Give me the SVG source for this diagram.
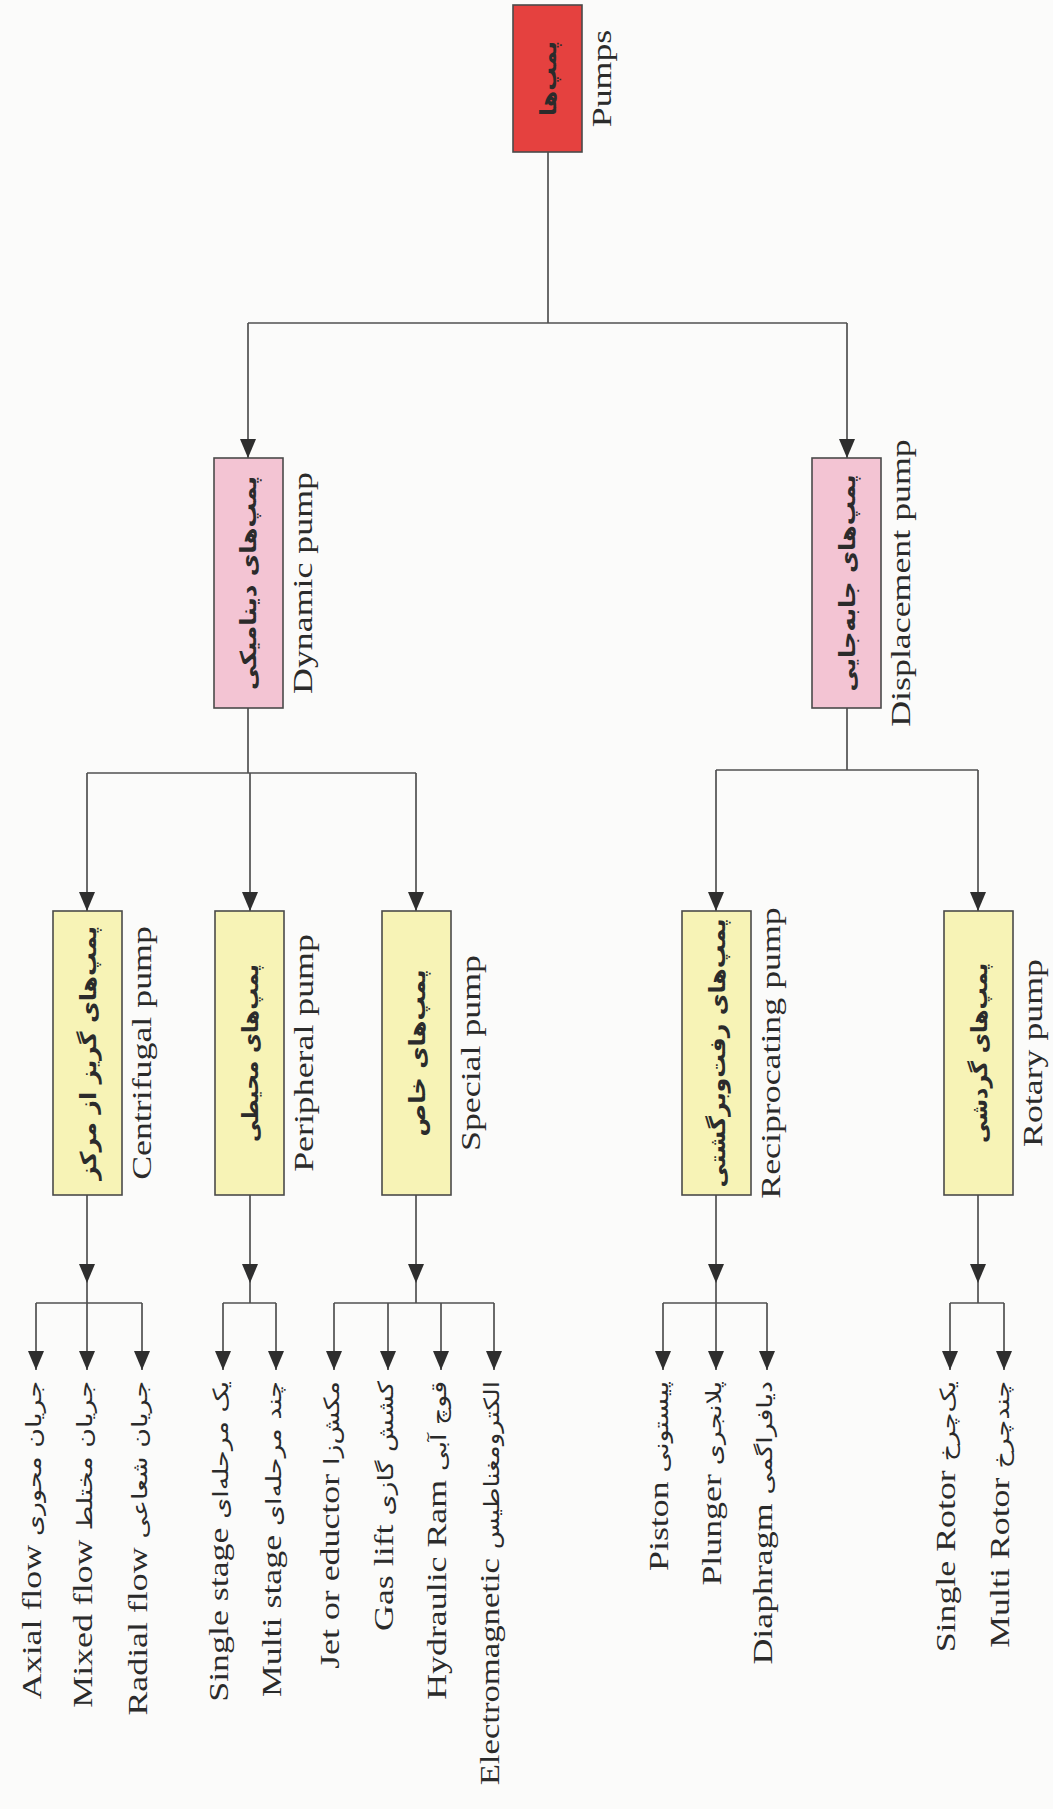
<svg xmlns="http://www.w3.org/2000/svg" width="1053" height="1809" viewBox="0 0 1053 1809">
<style>
.en{font-family:"Liberation Serif","Times New Roman",serif;font-size:28px;fill:#2b2b2b}
.fa{font-family:"DejaVu Sans","Noto Sans",sans-serif;font-size:22px;font-weight:bold;fill:#2b2b2b}
.fl{font-family:"DejaVu Sans","Noto Sans",sans-serif;font-size:21px}
.box{stroke:#4a4a4a;stroke-width:1.6}
.root{fill:#e5413f}
.l1{fill:#f3c4d3}
.l2{fill:#f7f3b6}
#connectors path{fill:none;stroke:#505050;stroke-width:1.7}
#connectors path.a{marker-end:url(#ah)}
</style>
<defs>
<marker id="ah" viewBox="0 0 10 10" refX="10" refY="5" markerWidth="19" markerHeight="16" markerUnits="userSpaceOnUse" orient="auto" preserveAspectRatio="none">
<path d="M0,0 L10,5 L0,10 z" fill="#2e2e2e"/>
</marker>
</defs>
<rect width="1053" height="1809" fill="#fbfbfa"/>
<g id="connectors">
<path d="M548,152 V323"/>
<path d="M248,323 H847"/>
<path class="a" d="M248,323 V458"/>
<path class="a" d="M847,323 V458"/>
<path d="M248,708 V773"/>
<path d="M87,773 H416"/>
<path class="a" d="M87,773 V911"/>
<path class="a" d="M250,773 V911"/>
<path class="a" d="M416,773 V911"/>
<path d="M847,708 V770"/>
<path d="M716,770 H978"/>
<path class="a" d="M716,770 V911"/>
<path class="a" d="M978,770 V911"/>
<path class="a" d="M87,1195 V1283"/>
<path d="M87,1283 V1303"/>
<path d="M36,1303 H142"/>
<path class="a" d="M36,1303 V1370"/>
<path class="a" d="M87,1303 V1370"/>
<path class="a" d="M142,1303 V1370"/>
<path class="a" d="M250,1195 V1283"/>
<path d="M250,1283 V1303"/>
<path d="M223,1303 H276"/>
<path class="a" d="M223,1303 V1370"/>
<path class="a" d="M276,1303 V1370"/>
<path class="a" d="M416,1195 V1283"/>
<path d="M416,1283 V1303"/>
<path d="M334,1303 H494"/>
<path class="a" d="M334,1303 V1370"/>
<path class="a" d="M388,1303 V1370"/>
<path class="a" d="M441,1303 V1370"/>
<path class="a" d="M494,1303 V1370"/>
<path class="a" d="M716,1195 V1283"/>
<path d="M716,1283 V1303"/>
<path d="M663,1303 H767"/>
<path class="a" d="M663,1303 V1370"/>
<path class="a" d="M716,1303 V1370"/>
<path class="a" d="M767,1303 V1370"/>
<path class="a" d="M978,1195 V1283"/>
<path d="M978,1283 V1303"/>
<path d="M950,1303 H1004"/>
<path class="a" d="M950,1303 V1370"/>
<path class="a" d="M1004,1303 V1370"/>
</g>
<g id="pumps">
<rect class="box root" x="513" y="5" width="69" height="147"/>
<text class="fa" transform="translate(556,78.5) rotate(-90)" text-anchor="middle" textLength="75" lengthAdjust="spacingAndGlyphs">پمپ‌ها</text>
<text class="en" transform="translate(611,78.5) rotate(-90) scale(1.28,1)" text-anchor="middle">Pumps</text>
</g>
<g id="dynamic">
<rect class="box l1" x="214" y="458" width="69" height="250"/>
<text class="fa" transform="translate(256,583) rotate(-90)" text-anchor="middle" textLength="214" lengthAdjust="spacingAndGlyphs">پمپ‌های دینامیکی</text>
<text class="en" transform="translate(312,583) rotate(-90) scale(1.28,1)" text-anchor="middle">Dynamic pump</text>
</g>
<g id="displacement">
<rect class="box l1" x="812" y="458" width="69" height="250"/>
<text class="fa" transform="translate(855,583) rotate(-90)" text-anchor="middle" textLength="217" lengthAdjust="spacingAndGlyphs">پمپ‌های جابه‌جایی</text>
<text class="en" transform="translate(910,583) rotate(-90) scale(1.28,1)" text-anchor="middle">Displacement pump</text>
</g>
<g id="centrifugal">
<rect class="box l2" x="53" y="911" width="69" height="284"/>
<text class="fa" transform="translate(96,1053) rotate(-90)" text-anchor="middle" textLength="254" lengthAdjust="spacingAndGlyphs">پمپ‌های گریز از مرکز</text>
<text class="en" transform="translate(151,1053) rotate(-90) scale(1.28,1)" text-anchor="middle">Centrifugal pump</text>
</g>
<g id="peripheral">
<rect class="box l2" x="215" y="911" width="69" height="284"/>
<text class="fa" transform="translate(258,1053) rotate(-90)" text-anchor="middle" textLength="178" lengthAdjust="spacingAndGlyphs">پمپ‌های محیطی</text>
<text class="en" transform="translate(313,1053) rotate(-90) scale(1.28,1)" text-anchor="middle">Peripheral pump</text>
</g>
<g id="special">
<rect class="box l2" x="382" y="911" width="69" height="284"/>
<text class="fa" transform="translate(425,1053) rotate(-90)" text-anchor="middle" textLength="167" lengthAdjust="spacingAndGlyphs">پمپ‌های خاص</text>
<text class="en" transform="translate(480,1053) rotate(-90) scale(1.28,1)" text-anchor="middle">Special pump</text>
</g>
<g id="reciprocating">
<rect class="box l2" x="682" y="911" width="69" height="284"/>
<text class="fa" transform="translate(725,1053) rotate(-90)" text-anchor="middle" textLength="269" lengthAdjust="spacingAndGlyphs">پمپ‌های رفت‌وبرگشتی</text>
<text class="en" transform="translate(780,1053) rotate(-90) scale(1.28,1)" text-anchor="middle">Reciprocating pump</text>
</g>
<g id="rotary">
<rect class="box l2" x="944" y="911" width="69" height="284"/>
<text class="fa" transform="translate(987,1053) rotate(-90)" text-anchor="middle" textLength="180" lengthAdjust="spacingAndGlyphs">پمپ‌های گردشی</text>
<text class="en" transform="translate(1042,1053) rotate(-90) scale(1.28,1)" text-anchor="middle">Rotary pump</text>
</g>
<g id="leaf-axial"><text class="en" transform="translate(41,1381) rotate(-90) scale(1.28,1)" text-anchor="end">Axial flow <tspan class="fl">جریان محوری</tspan></text></g>
<g id="leaf-mixed"><text class="en" transform="translate(92,1381) rotate(-90) scale(1.28,1)" text-anchor="end">Mixed flow <tspan class="fl">جریان مختلط</tspan></text></g>
<g id="leaf-radial"><text class="en" transform="translate(147,1381) rotate(-90) scale(1.28,1)" text-anchor="end">Radial flow <tspan class="fl">جریان شعاعی</tspan></text></g>
<g id="leaf-single-stage"><text class="en" transform="translate(228,1381) rotate(-90) scale(1.28,1)" text-anchor="end">Single stage <tspan class="fl">یک مرحله‌ای</tspan></text></g>
<g id="leaf-multi-stage"><text class="en" transform="translate(281,1381) rotate(-90) scale(1.28,1)" text-anchor="end">Multi stage <tspan class="fl">چند مرحله‌ای</tspan></text></g>
<g id="leaf-jet"><text class="en" transform="translate(339,1381) rotate(-90) scale(1.28,1)" text-anchor="end">Jet or eductor <tspan class="fl">مکش‌زا</tspan></text></g>
<g id="leaf-gas"><text class="en" transform="translate(393,1381) rotate(-90) scale(1.28,1)" text-anchor="end">Gas lift <tspan class="fl">کشش گازی</tspan></text></g>
<g id="leaf-ram"><text class="en" transform="translate(446,1381) rotate(-90) scale(1.28,1)" text-anchor="end">Hydraulic Ram <tspan class="fl">قوچ آبی</tspan></text></g>
<g id="leaf-em"><text class="en" transform="translate(499,1381) rotate(-90) scale(1.24,1)" text-anchor="end">Electromagnetic <tspan class="fl">الکترومغناطیس</tspan></text></g>
<g id="leaf-piston"><text class="en" transform="translate(668,1381) rotate(-90) scale(1.28,1)" text-anchor="end">Piston <tspan class="fl">پیستونی</tspan></text></g>
<g id="leaf-plunger"><text class="en" transform="translate(721,1381) rotate(-90) scale(1.28,1)" text-anchor="end">Plunger <tspan class="fl">پلانجری</tspan></text></g>
<g id="leaf-diaphragm"><text class="en" transform="translate(772,1381) rotate(-90) scale(1.28,1)" text-anchor="end">Diaphragm <tspan class="fl">دیافراگمی</tspan></text></g>
<g id="leaf-single-rotor"><text class="en" transform="translate(955,1381) rotate(-90) scale(1.28,1)" text-anchor="end">Single Rotor <tspan class="fl">یک‌چرخ</tspan></text></g>
<g id="leaf-multi-rotor"><text class="en" transform="translate(1009,1381) rotate(-90) scale(1.28,1)" text-anchor="end">Multi Rotor <tspan class="fl">چندچرخ</tspan></text></g>
</svg>
